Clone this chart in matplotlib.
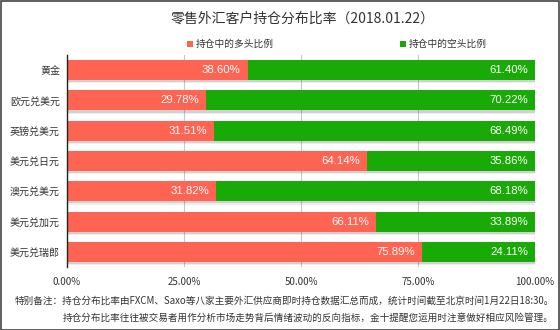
import matplotlib.pyplot as plt
from matplotlib.patches import Rectangle
import numpy as np

# Data
categories = ['黄金', '欧元兑美元', '英镑兑美元', '美元兑日元', '澳元兑美元', '美元兑加元', '美元兑瑞郎']
long_pct = [38.60, 29.78, 31.51, 64.14, 31.82, 66.11, 75.89]
short_pct = [61.40, 70.22, 68.49, 35.86, 68.18, 33.89, 24.11]
xticks = [0, 25, 50, 75, 100]
xtick_labels = ['0.00%', '25.00%', '50.00%', '75.00%', '100.00%']

title = '零售外汇客户持仓分布比率（2018.01.22）'
long_label = '持仓中的多头比例'
short_label = '持仓中的空头比例'
note1 = '特别备注：持仓分布比率由FXCM、Saxo等八家主要外汇供应商即时持仓数据汇总而成，统计时间截至北京时间1月22日18:30。'
note2 = '持仓分布比率往往被交易者用作分析市场走势背后情绪波动的反向指标，金十提醒您运用时注意做好相应风险管理。'

# Style
red = '#FF6452'
green = '#1AAA08'
text_color = '#333333'
cjk = ['Noto Sans CJK SC', 'DejaVu Sans']
plt.rcParams['font.family'] = cjk

W, H = 560, 330
fig = plt.figure(figsize=(W / 100, H / 100), dpi=100)
ax = fig.add_axes([67 / W, 1 - 267 / H, 468 / W, 212 / H])

y = np.arange(len(categories))
bar_h = 0.66

# soft drop shadow under each row
for dy, a in [(0.07, 0.18), (0.11, 0.10)]:
    ax.barh(y + dy, [100.4] * len(y), height=bar_h, left=0, color='#555555', alpha=a,
            linewidth=0, zorder=2)

ax.barh(y, long_pct, height=bar_h, color=red, linewidth=0, zorder=3)
ax.barh(y, short_pct, height=bar_h, left=long_pct, color=green, linewidth=0, zorder=3)

# value labels, right-aligned inside each segment
for i in range(len(y)):
    ax.text(long_pct[i] - 1.5, y[i], f'{long_pct[i]:.2f}%', ha='right', va='center',
            color='white', fontsize=8.2, family='Liberation Sans', zorder=4)
    ax.text(100 - 1.5, y[i], f'{short_pct[i]:.2f}%', ha='right', va='center',
            color='white', fontsize=8.2, family='Liberation Sans', zorder=4)

ax.set_xlim(0, 100)
ax.set_ylim(len(categories) - 0.5, -0.5)
ax.set_yticks(y)
ax.set_yticklabels(categories, fontsize=7.2, color=text_color)
ax.set_xticks(xticks)
ax.set_xticklabels(xtick_labels, fontsize=7, color=text_color)
ax.tick_params(axis='y', length=0, pad=5)
ax.tick_params(axis='x', length=0, pad=7)
ax.grid(axis='x', color='#C8C8C8', linewidth=0.8, zorder=1)
ax.set_axisbelow(True)
for s in ['top', 'right', 'bottom']:
    ax.spines[s].set_visible(False)
ax.spines['left'].set_color('#222222')
ax.spines['left'].set_linewidth(1.0)
ax.spines['left'].set_zorder(5)

# title
fig.text(303 / W, 1 - 18.5 / H, title, ha='center', va='center', fontsize=10, color=text_color)

# legend
sq = 6
fig.patches.append(Rectangle((187 / W, 1 - 47 / H), sq / W, sq / H, transform=fig.transFigure,
                             facecolor=red, edgecolor='none'))
fig.text(196 / W, 1 - 44 / H, long_label, ha='left', va='center', fontsize=7, color=text_color)
fig.patches.append(Rectangle((400 / W, 1 - 47 / H), sq / W, sq / H, transform=fig.transFigure,
                             facecolor=green, edgecolor='none'))
fig.text(409 / W, 1 - 44 / H, short_label, ha='left', va='center', fontsize=7, color=text_color)

# footnotes
fig.text(554 / W, 1 - 300.5 / H, note1, ha='right', va='center', fontsize=6.95, color=text_color)
fig.text(554 / W, 1 - 318 / H, note2, ha='right', va='center', fontsize=6.9, color=text_color)

# outer frame
fig.patches.append(Rectangle((0.5 / W, 0.5 / H), (W - 1.5) / W, (H - 1.5) / H,
                             transform=fig.transFigure, fill=False,
                             edgecolor='#444444', linewidth=1.2))

fig.savefig('out.png', dpi=100)
